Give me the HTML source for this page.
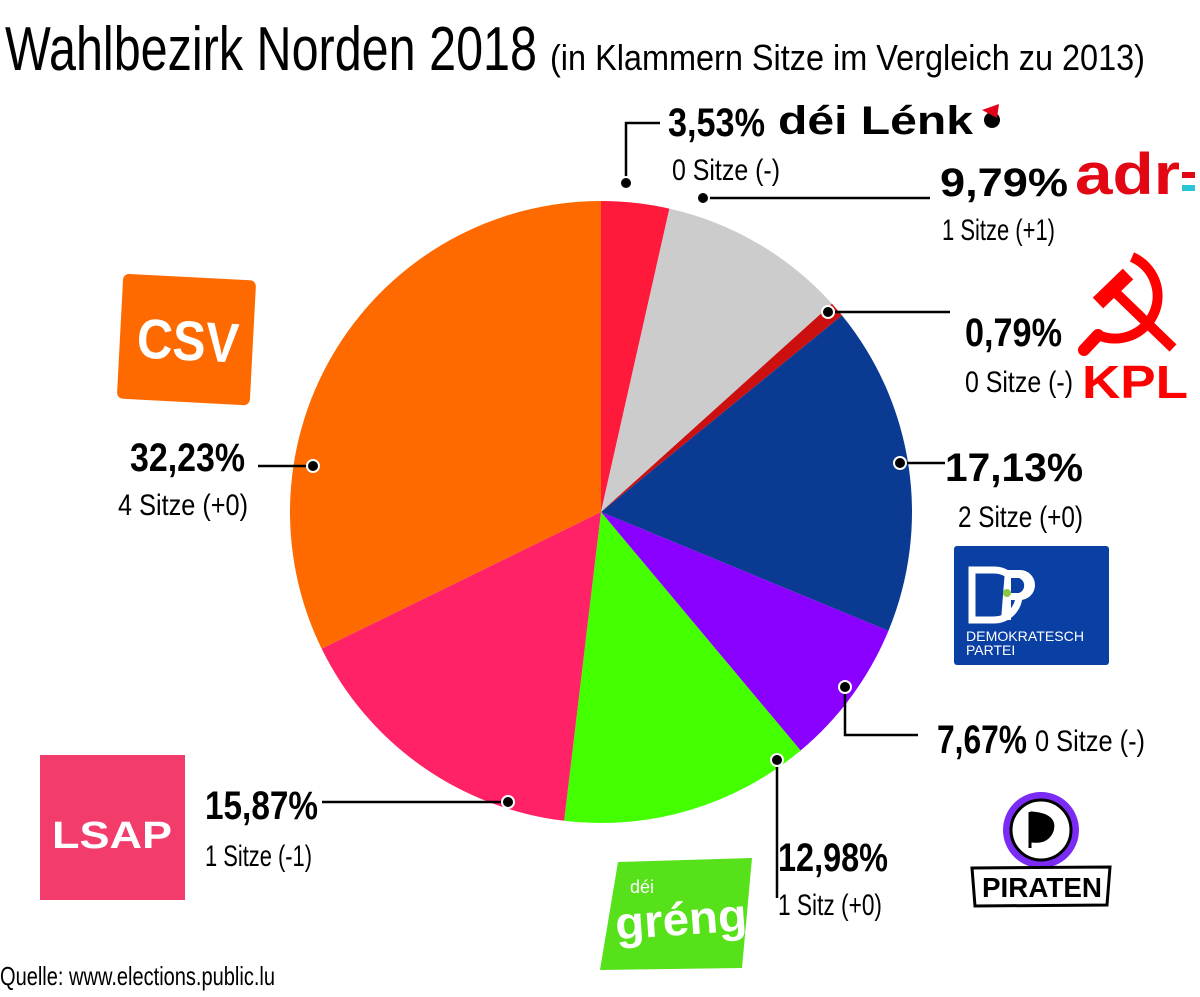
<!DOCTYPE html>
<html><head><meta charset="utf-8"><style>
html,body{margin:0;padding:0;background:#fff;}
svg{display:block;}
text{font-family:"Liberation Sans Narrow","Liberation Sans",sans-serif;}
.b{font-weight:bold;}
</style></head><body>
<svg id="s" width="1200" height="997" viewBox="0 0 1200 997" xmlns="http://www.w3.org/2000/svg">
<rect width="1200" height="997" fill="#fff"/>
<g id="pie"></g>
<text x="5" y="70" font-size="62" textLength="532" lengthAdjust="spacingAndGlyphs">Wahlbezirk Norden 2018</text>
<text x="550" y="70" font-size="36" textLength="595" lengthAdjust="spacingAndGlyphs">(in Klammern Sitze im Vergleich zu 2013)</text>

<g stroke="#000" stroke-width="2.5" fill="none">
<polyline points="626,183 626,123 660,123"/>
<polyline points="703,198 930,198"/>
<polyline points="828,312 950,312"/>
<polyline points="900,463 945,463"/>
<polyline points="845,687 845,735 918,735"/>
<polyline points="777,760 777,898"/>
<polyline points="508,802 322,802"/>
<polyline points="313,466 258,466"/>
</g>
<g fill="#000" stroke="#fff" stroke-width="2">
<circle cx="626" cy="183" r="6"/><circle cx="703" cy="198" r="6"/><circle cx="828" cy="312" r="6"/>
<circle cx="900" cy="463" r="6"/><circle cx="845" cy="687" r="6"/><circle cx="777" cy="760" r="6"/>
<circle cx="508" cy="802" r="6"/><circle cx="313" cy="466" r="6"/>
</g>

<!-- Lenk -->
<text class="b" x="668" y="136" font-size="40" textLength="97" lengthAdjust="spacingAndGlyphs">3,53%</text>
<text class="b" x="778" y="134" font-size="40" font-family="Liberation Sans" textLength="195" lengthAdjust="spacingAndGlyphs">déi Lénk</text>
<circle cx="992" cy="120" r="8" fill="#000"/><path d="M982 110 L999 104 L997 118 Z" fill="#e2001a"/>
<text x="672" y="180" font-size="30" textLength="108" lengthAdjust="spacingAndGlyphs">0 Sitze (-)</text>
<!-- adr -->
<text class="b" x="940" y="196" font-size="40" textLength="128" lengthAdjust="spacingAndGlyphs">9,79%</text>
<text class="b" x="1075" y="194" font-size="58" fill="#e30613" font-family="Liberation Sans" textLength="105" lengthAdjust="spacingAndGlyphs">adr</text>
<rect x="1182" y="172" width="13" height="6" fill="#e30613"/><rect x="1182" y="185" width="13" height="6" fill="#29c4d6"/>
<text x="942" y="240" font-size="30" textLength="113" lengthAdjust="spacingAndGlyphs">1 Sitze (+1)</text>
<!-- KPL -->
<text class="b" x="965" y="346" font-size="40" textLength="97" lengthAdjust="spacingAndGlyphs">0,79%</text>
<text x="965" y="392" font-size="30" textLength="108" lengthAdjust="spacingAndGlyphs">0 Sitze (-)</text>
<g fill="none" stroke="#f00">
<path d="M1132 257 A42 42 0 1 1 1098 335" stroke-width="10"/>
<path d="M1098 335 L1084 350" stroke-width="12" stroke-linecap="round"/>
<path d="M1115 292 L1173 348" stroke-width="10"/>
<path d="M1098 303 L1128 274" stroke-width="15"/>
</g>
<text class="b" x="1082" y="398" font-size="46" fill="#f00" font-family="Liberation Sans" textLength="106" lengthAdjust="spacingAndGlyphs">KPL</text>
<!-- DP -->
<text class="b" x="945" y="481" font-size="40" textLength="138" lengthAdjust="spacingAndGlyphs">17,13%</text>
<text x="958" y="527" font-size="30" textLength="125" lengthAdjust="spacingAndGlyphs">2 Sitze (+0)</text>
<rect x="954" y="546" width="155" height="119" rx="3" fill="#0a3fa3"/>
<path d="M972 570 h22 a25 25 0 0 1 0 50 h-22 Z" fill="none" stroke="#fff" stroke-width="7"/>
<path d="M1005 570 h15 a15 15 0 0 1 0 30 h-9 v20 h-10 Z" fill="#fff"/>
<path d="M1011 578 h8 a8 8 0 0 1 0 15 h-8 Z" fill="#0a3fa3"/>
<circle cx="1007" cy="593" r="4" fill="#8dc63f"/>
<text x="966" y="641" font-size="14" fill="#fff" font-family="Liberation Sans" textLength="118" lengthAdjust="spacingAndGlyphs">DEMOKRATESCH</text>
<text x="966" y="655" font-size="14" fill="#fff" font-family="Liberation Sans">PARTEI</text>
<!-- Piraten -->
<text class="b" x="937" y="753" font-size="40" textLength="90" lengthAdjust="spacingAndGlyphs">7,67%</text>
<text x="1035" y="751" font-size="30" textLength="110" lengthAdjust="spacingAndGlyphs">0 Sitze (-)</text>
<circle cx="1041" cy="830" r="38" fill="#7a2cf5"/>
<circle cx="1041" cy="830" r="30" fill="#fff" stroke="#000" stroke-width="3"/>
<path d="M1030 812 v36 M1032 813 q25 2 20 18 q-5 12 -20 10 Z" fill="#000" stroke="#000" stroke-width="3"/>
<path d="M972 868 L1110 867 L1107 905 L975 906 Z" fill="#fff" stroke="#000" stroke-width="3"/>
<text class="b" x="982" y="897" font-size="28" font-family="Liberation Sans" textLength="120" lengthAdjust="spacingAndGlyphs">PIRATEN</text>
<!-- greng -->
<text class="b" x="778" y="871" font-size="40" textLength="110" lengthAdjust="spacingAndGlyphs">12,98%</text>
<text x="778" y="915" font-size="30" textLength="104" lengthAdjust="spacingAndGlyphs">1 Sitz (+0)</text>
<path d="M618 862 L752 858 L742 968 L600 970 Z" fill="#56e11a"/>
<text x="630" y="893" font-size="18" fill="#fff" font-family="Liberation Sans">déi</text>
<text class="b" x="615" y="935" font-size="46" fill="#fff" font-family="Liberation Sans" transform="rotate(-4 680 920)" textLength="132" lengthAdjust="spacingAndGlyphs">gréng</text>
<!-- LSAP -->
<text class="b" x="205" y="819" font-size="40" textLength="113" lengthAdjust="spacingAndGlyphs">15,87%</text>
<text x="205" y="866" font-size="30" textLength="107" lengthAdjust="spacingAndGlyphs">1 Sitze (-1)</text>
<rect x="40" y="755" width="145" height="145" fill="#f23d6c"/>
<text class="b" x="52" y="848" font-size="38" fill="#fff" font-family="Liberation Sans" textLength="120" lengthAdjust="spacingAndGlyphs">LSAP</text>
<!-- CSV -->
<g transform="rotate(3 186 339)"><rect x="120" y="277" width="133" height="125" rx="6" fill="#ff6a00"/></g>
<text class="b" x="137" y="360" font-size="56" fill="#fff" font-family="Liberation Sans" textLength="102" lengthAdjust="spacingAndGlyphs" transform="rotate(3 186 339)">CSV</text>
<text class="b" x="130" y="471" font-size="40" textLength="115" lengthAdjust="spacingAndGlyphs">32,23%</text>
<text x="118" y="515" font-size="30" textLength="130" lengthAdjust="spacingAndGlyphs">4 Sitze (+0)</text>

<text x="0" y="985" font-size="26" textLength="275" lengthAdjust="spacingAndGlyphs">Quelle: www.elections.public.lu</text>
</svg>
<script>
(function(){
var d=[[3.53,"#ff1a3c"],[9.79,"#cccccc"],[0.79,"#cc1010"],[17.13,"#0a3a91"],[7.67,"#8a00ff"],[12.98,"#44ff00"],[15.87,"#ff2266"],[32.24,"#ff6a00"]];
var cx=601,cy=512,r=311,a=0,g=document.getElementById("pie"),h="";
function pt(t){t=t*2*Math.PI/100;return [cx+r*Math.sin(t),cy-r*Math.cos(t)];}
for(var i=0;i<d.length;i++){var p0=pt(a),p1=pt(a+d[i][0]);var la=d[i][0]>50?1:0;
h+='<path d="M'+cx+' '+cy+' L'+p0[0].toFixed(2)+' '+p0[1].toFixed(2)+' A'+r+' '+r+' 0 '+la+' 1 '+p1[0].toFixed(2)+' '+p1[1].toFixed(2)+' Z" fill="'+d[i][1]+'"/>';a+=d[i][0];}
g.innerHTML=h;
})();
</script>
</body></html>
